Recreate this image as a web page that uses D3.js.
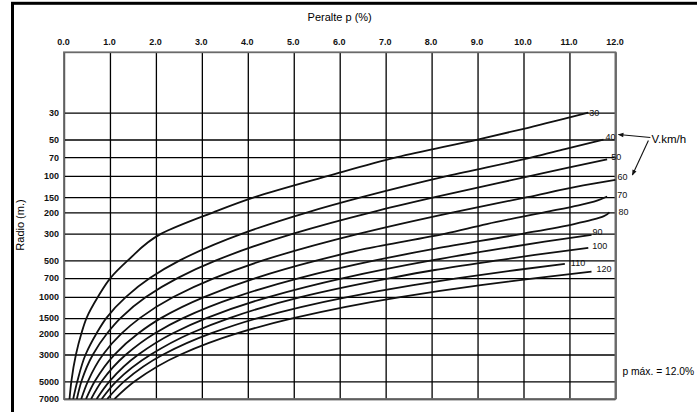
<!DOCTYPE html>
<html><head><meta charset="utf-8">
<script src="https://cdn.jsdelivr.net/npm/d3@7"></script>
<style>
body{margin:0;background:#fff}
svg{display:block;font-family:"Liberation Sans",Arial,sans-serif}
</style>
</head><body>
<svg id="chart" width="697" height="412"></svg>
<script>
// ---- data ----
const xTicks = [0,1,2,3,4,5,6,7,8,9,10,11,12];
const yTicks = [30,50,70,100,150,200,300,500,700,1000,1500,2000,3000,5000,7000];
const speeds = [30,40,50,60,70,80,90,100,110,120];
// each curve: [radius (m), peralte (%)]
const v30  = [[7000,0.12],[5000,0.16],[3000,0.26],[2000,0.38],[1500,0.49],[1000,0.74],[700,1.01],[500,1.39],[300,2.12],[200,3.25],[150,4.15],[100,5.75],[70,7.25],[50,9.0],[40,10.1],[30,11.41]];
const v40  = [[7000,0.2],[5000,0.29],[3000,0.47],[2000,0.71],[1500,0.92],[1000,1.35],[700,1.87],[500,2.52],[300,3.88],[200,5.3],[150,6.48],[100,8.35],[70,10.2],[60,10.9],[50,11.74]];
const v50  = [[7000,0.28],[5000,0.38],[3000,0.63],[2000,0.94],[1500,1.23],[1000,1.79],[700,2.47],[500,3.31],[300,4.99],[200,6.69],[150,8.07],[100,10.16],[85,11.0],[73,11.82]];
const v60  = [[7000,0.375],[5000,0.52],[3000,0.85],[2000,1.26],[1500,1.65],[1000,2.39],[700,3.27],[500,4.33],[300,6.43],[200,8.47],[150,10.08],[120,11.3],[108,12.0]];
const v70  = [[7000,0.48],[5000,0.67],[3000,1.1],[2000,1.62],[1500,2.11],[1000,3.06],[700,4.17],[500,5.51],[400,6.57],[300,8.3],[250,9.2],[200,10.45],[175,11.2],[160,11.6],[148,11.82]];
const v80  = [[7000,0.59],[5000,0.82],[3000,1.35],[2000,1.98],[1500,2.59],[1000,3.75],[700,5.12],[500,6.77],[400,8.08],[300,10.0],[250,11.1],[230,11.5],[215,11.75],[200,11.87]];
const v90  = [[7000,0.71],[5000,0.99],[3000,1.62],[2000,2.37],[1500,3.1],[1000,4.47],[700,6.08],[500,8.0],[400,9.5],[350,10.46],[308,11.48]];
const v100 = [[7000,0.82],[5000,1.14],[3000,1.89],[2000,2.76],[1500,3.6],[1000,5.17],[700,7.1],[600,8.07],[500,9.43],[450,10.25],[393,11.41]];
const v110 = [[7000,0.94],[5000,1.31],[3000,2.16],[2000,3.21],[1500,4.22],[1000,6.19],[800,7.6],[700,8.58],[600,9.85],[535,10.9]];
const v120 = [[7000,1.1],[5000,1.54],[3000,2.54],[2000,3.78],[1500,4.99],[1000,7.35],[800,9.07],[700,10.27],[620,11.48]];
const curves = [v30,v40,v50,v60,v70,v80,v90,v100,v110,v120];
const pMax = 12.0;

// ---- layout / style ----
const labelDx = [1,2,4,2,10,9,1,4,6,5];
const labelDy = [0,-3,-3,-3,-2,0,-3,-2,-1,-3];

const svg = d3.select("#chart");
const x = d3.scaleLinear().domain([0,12]).range([64,615.4]);
const y = d3.scaleLog().domain([9.5,7000]).range([52.3,399]);
const pL = x.range()[0], pR = x.range()[1], pT = y.range()[0], pB = y.range()[1];

// outer frame
svg.append("rect").attr("x",12.5).attr("y",3.3).attr("width",720).attr("height",440)
  .attr("fill","none").attr("stroke","#000").attr("stroke-width",3);

// vertical grid + top axis
const xAxis = d3.axisTop(x).tickValues(xTicks).tickFormat(d3.format(".1f"))
  .tickSize(-(pB-pT)).tickPadding(7);
const gx = svg.append("g").attr("transform",`translate(0,${pT})`).call(xAxis);
gx.select(".domain").remove();
gx.selectAll(".tick line").attr("stroke","#000").attr("stroke-width",1.3);
gx.selectAll(".tick text").attr("font-size",9).attr("font-weight","bold").attr("fill","#111")
  .attr("font-family","Liberation Sans, Arial, sans-serif").attr("dx",-1);

// horizontal grid + left axis
const yAxis = d3.axisLeft(y).tickValues(yTicks).tickFormat(d3.format("d"))
  .tickSize(-(pR-pL)).tickPadding(5);
const gy = svg.append("g").attr("transform",`translate(${pL},0)`).call(yAxis);
gy.select(".domain").remove();
gy.selectAll(".tick line").attr("stroke","#000").attr("stroke-width",1.3);
gy.selectAll(".tick text").attr("font-size",9).attr("font-weight","bold").attr("fill","#111")
  .attr("font-family","Liberation Sans, Arial, sans-serif");

// plot frame
svg.append("rect").attr("x",pL).attr("y",pT).attr("width",pR-pL).attr("height",pB-pT)
  .attr("fill","none").attr("stroke","#6a6a6a").attr("stroke-width",1.8);

// titles
svg.append("text").attr("x",(pL+pR)/2).attr("y",21).attr("text-anchor","middle")
  .attr("font-size",11).text("Peralte p (%)");
svg.append("text").attr("transform","translate(24,225) rotate(-90)").attr("text-anchor","middle")
  .attr("font-size",11).text("Radio (m.)");

// curves
const line = d3.line().x(d=>x(d[1])).y(d=>y(d[0])).curve(d3.curveMonotoneY);
svg.append("clipPath").attr("id","plotclip").append("rect")
  .attr("x",pL).attr("y",pT).attr("width",pR-pL+4).attr("height",pB-pT);
svg.append("g").attr("clip-path","url(#plotclip)").selectAll("path").data(curves).join("path")
  .attr("d",line).attr("fill","none").attr("stroke","#111").attr("stroke-width",1.8);

// curve labels
curves.forEach((c,i)=>{
  const end = c[c.length-1];
  svg.append("text").attr("x",x(end[1])+labelDx[i]).attr("y",y(end[0])+labelDy[i])
    .attr("dy","0.35em").attr("font-size",9).attr("fill","#111").text(speeds[i]);
});

// V.km/h annotation with arrows
const e40 = v40[v40.length-1], e60 = v60[v60.length-1];
svg.append("defs").append("marker").attr("id","ah").attr("viewBox","0 0 10 10")
  .attr("refX",9).attr("refY",5).attr("markerWidth",6).attr("markerHeight",5).attr("orient","auto")
  .append("path").attr("d","M0,1 L10,5 L0,9 Z").attr("fill","#111");
const vx = pR+36, vy = y(e40[0]) - 1;
svg.append("text").attr("x",vx).attr("y",vy).attr("dy","0.35em").attr("font-size",11.5).text("V.km/h");
svg.append("line").attr("x1",vx-1).attr("y1",vy-1).attr("x2",x(e40[1])+15).attr("y2",y(e40[0])-5)
  .attr("stroke","#111").attr("stroke-width",1.1).attr("marker-end","url(#ah)");
svg.append("line").attr("x1",vx-3).attr("y1",vy+2).attr("x2",x(e60[1])+17).attr("y2",y(e60[0])-5)
  .attr("stroke","#111").attr("stroke-width",1.1).attr("marker-end","url(#ah)");

// p max note
svg.append("text").attr("x",pR+7).attr("y",y(4100)).attr("dy","0.35em")
  .attr("font-size",10.3).text(`p máx. = ${pMax.toFixed(1)}%`);
</script>
</body></html>
